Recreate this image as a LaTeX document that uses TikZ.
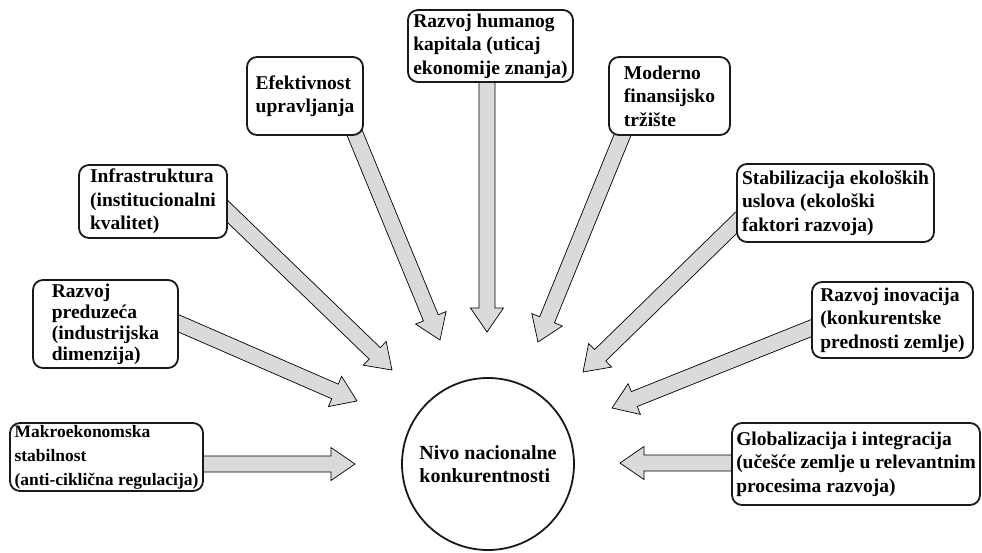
\documentclass[tikz,border=0pt]{standalone}
\usepackage{fontspec}
\setmainfont{Liberation Serif}
\usetikzlibrary{calc}
\definecolor{arrowgray}{RGB}{217,218,218}
\pgfdeclarelayer{bg}
\pgfsetlayers{bg,main}
% grey block arrow from #1 to the tip #2
\newcommand{\blockarrow}[2]{%
  \coordinate (ba) at ($(#2)!24pt!(#1)$);
  \filldraw[arr] ($(#1)!8pt!90:(#2)$) -- ($(ba)!8pt!90:(#2)$) -- ($(ba)!16.5pt!90:(#2)$)
    -- (#2) -- ($(ba)!16.5pt!-90:(#2)$) -- ($(ba)!8pt!-90:(#2)$) -- ($(#1)!8pt!-90:(#2)$) -- cycle;}

\begin{document}
\begin{tikzpicture}[x=1pt,y=-1pt,
    box/.style={draw=black!90,line width=1.8pt,rounded corners=10pt,fill=white,align=left,
      inner sep=2pt,font=\bfseries\fontsize{19.5}{23.5}\selectfont},
    arr/.style={fill=arrowgray,draw=black,line width=0.7pt,line join=miter}]
    \useasboundingbox (0,0) rectangle (982,552);
    \node[box,minimum width=193pt,minimum height=66pt,font=\bfseries\fontsize{17.5}{24}\selectfont] (makro) at (106.5,457) {Makroekonomska\\stabilnost\\(anti-ciklična regulacija)};
    \node[box,minimum width=145pt,minimum height=88pt,font=\bfseries\fontsize{19.5}{21}\selectfont] (preduz) at (105.5,324) {Razvoj\\preduzeća\\(industrijska\\dimenzija)};
    \node[box,minimum width=148pt,minimum height=73pt] (infra) at (153,201.5) {Infrastruktura\\(institucionalni\\kvalitet)};
    \node[box,minimum width=116pt,minimum height=78pt] (efekt) at (305,96) {Efektivnost\\upravljanja};
    \node[box,minimum width=165pt,minimum height=72pt] (human) at (490.5,46) {Razvoj humanog\\kapitala (uticaj\\ekonomije znanja)};
    \node[box,minimum width=121pt,minimum height=78pt] (moder) at (669.5,96) {Moderno\\finansijsko\\tržište};
    \node[box,minimum width=197pt,minimum height=78pt] (stabil) at (835.5,203) {Stabilizacija ekoloških\\uslova (ekološki\\faktori razvoja)};
    \node[box,minimum width=161pt,minimum height=76pt] (inov) at (892.5,320) {Razvoj inovacija\\(konkurentske\\prednosti zemlje)};
    \node[box,minimum width=248pt,minimum height=82pt] (glob) at (856,464) {Globalizacija i integracija\\(učešće zemlje u relevantnim\\procesima razvoja)};
    \node[draw=black!90,line width=1.8pt,circle,fill=white,minimum size=172pt,inner sep=0pt,align=left,
      font=\bfseries\fontsize{20}{23}\selectfont] (nivo) at (488,464) {Nivo nacionalne\\konkurentnosti};
    % where the arrows leave the boxes
    \coordinate (s1) at ($(makro.east)+(-8,7)$);
    \coordinate (s2) at ($(preduz.east)+(-8,-4)$);
    \coordinate (s3) at ($(infra.east)+(-7,3.5)$);
    \coordinate (s4) at ($(efekt.south)+(48,-7)$);
    \coordinate (s5) at ($(human.south)+(-3.5,-7)$);
    \coordinate (s6) at ($(moder.south)+(-44.5,-7)$);
    \coordinate (s7) at ($(stabil.west)+(7,13)$);
    \coordinate (s8) at ($(inov.west)+(8,5)$);
    \coordinate (s9) at ($(glob.west)+(8,-1)$);
    % arrow tips round the circle
    \coordinate (t1) at (355,464);
    \coordinate (t2) at (357,401);
    \coordinate (t3) at (392,370);
    \coordinate (t4) at (440,340);
    \coordinate (t5) at (487,332);
    \coordinate (t6) at (538,342);
    \coordinate (t7) at (583,372);
    \coordinate (t8) at (612,408);
    \coordinate (t9) at (620,463);
    \begin{pgfonlayer}{bg}
    \foreach \i in {1,...,9}{\blockarrow{s\i}{t\i}}
    \end{pgfonlayer}
\end{tikzpicture}
\end{document}
